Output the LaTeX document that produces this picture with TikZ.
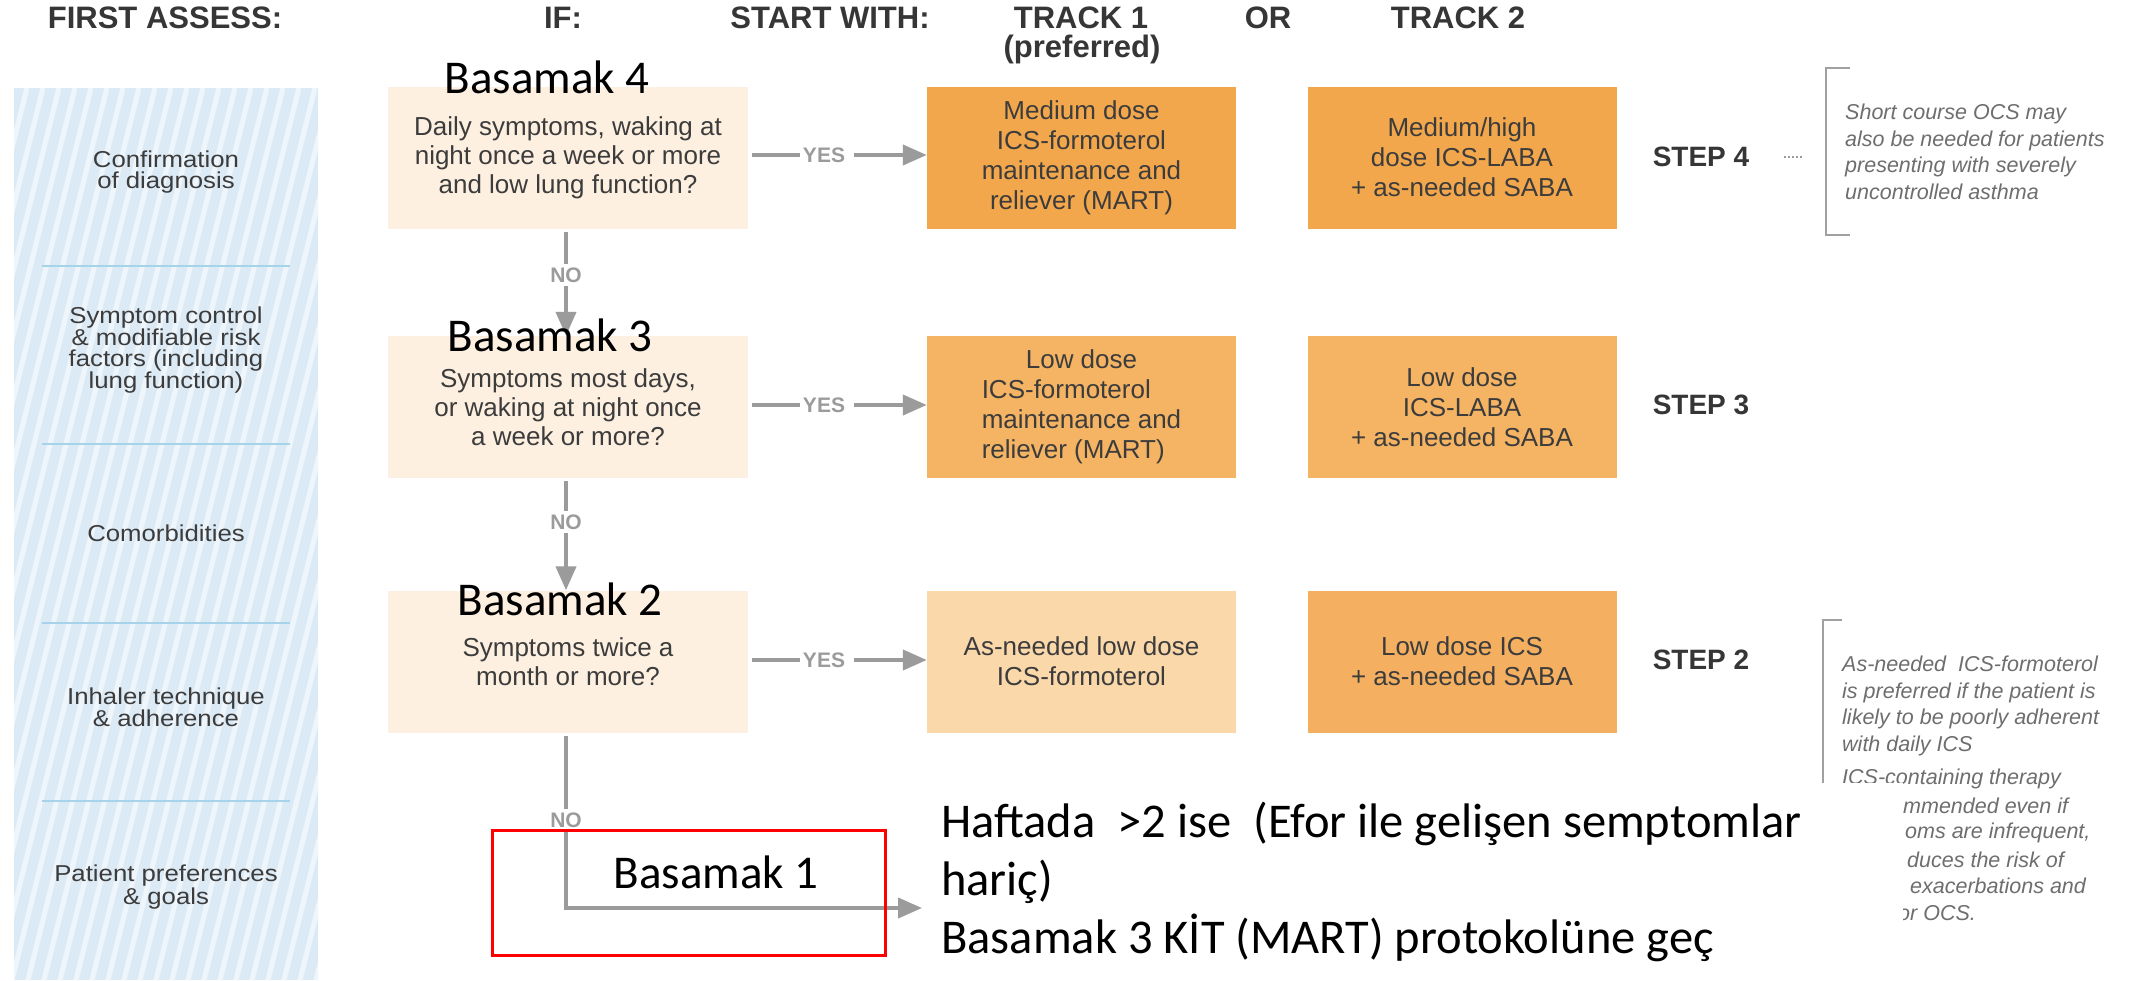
\documentclass[tikz,border=0pt]{standalone}
\usepackage{fontspec}
\setmainfont{Liberation Sans}
\newfontfamily\calfont{Carlito}
\newfontfamily\leftfont[FakeStretch=1.12]{Liberation Sans}
\usetikzlibrary{arrows.meta}
\definecolor{qcol}{HTML}{FDF0E1}
\definecolor{oA}{HTML}{F3A74C}
\definecolor{oB}{HTML}{F5B463}
\definecolor{oC}{HTML}{FAD8AA}
\definecolor{oD}{HTML}{F4B060}
\definecolor{txtc}{HTML}{3C3C3C}
\definecolor{hdrc}{HTML}{363636}
\definecolor{connc}{HTML}{9B9B9B}
\definecolor{panelc}{HTML}{DCEAF5}
\definecolor{stripec}{HTML}{EEF5FB}
\definecolor{sepc}{HTML}{A6D2EA}
\definecolor{notec}{HTML}{6E6E6E}
\definecolor{brkc}{HTML}{A0A0A0}
\tikzset{
  qbox/.style={fill=qcol, minimum width=360, minimum height=142, inner sep=0, align=center, text=txtc, font=\fontsize{26}{29}\selectfont},
  tbox/.style={minimum width=309, minimum height=142, inner sep=0, align=center, text=txtc, font=\fontsize{26}{30}\selectfont},
  hdr/.style={font=\bfseries\fontsize{31}{34}\selectfont, text=hdrc, inner sep=0},
  steplbl/.style={font=\bfseries\fontsize{28}{30}\selectfont, text=hdrc, inner sep=0},
  lbl/.style={font=\bfseries\fontsize{21}{22}\selectfont, text=connc, inner sep=3},
  cline/.style={draw=connc, line width=4},
  carr/.style={cline, -{Triangle[length=24,width=20]}},
  bas/.style={font=\calfont\fontsize{47}{56}\selectfont, text=black, inner sep=0},
  tk/.style={font=\calfont\fontsize{48.5}{58}\selectfont, text=black, inner sep=0, anchor=base west},
  lefttxt/.style={font=\leftfont\fontsize{23}{21}\selectfont, text=txtc, align=center, inner sep=0},
  note/.style={font=\itshape\fontsize{21.5}{26.5}\selectfont, text=notec, align=left, inner sep=0},
  frag/.style={font=\itshape\fontsize{21.5}{26.5}\selectfont, text=notec, inner sep=0, anchor=west},
  brk/.style={draw=brkc, line width=1.5},
  sepline/.style={draw=sepc, line width=2},
}
\begin{document}
\begin{tikzpicture}[x=1pt,y=-1pt]
\useasboundingbox (0,0) rectangle (2136,980);
\fill[white] (0,0) rectangle (2136,980);

% left panel
\fill[panelc] (14,88) rectangle (318,980);
\begin{scope}
\clip (14,88) rectangle (318,980);
\foreach \i in {-260,-244,...,330} \draw[stripec, line width=5] (\i,980) -- ({\i+223},88);
\end{scope}
\draw[sepline] (42,266) -- (290,266);
\draw[sepline] (42,444) -- (290,444);
\draw[sepline] (42,623) -- (290,623);
\draw[sepline] (42,801) -- (290,801);

\node[lefttxt] (l1) at (166,172) {Confirmation\\of diagnosis};
\node[lefttxt] (l2) at (166,350) {Symptom control\\\& modifiable risk\\factors (including\\lung function)};
\node[lefttxt] (l3) at (166,533) {Comorbidities};
\node[lefttxt] (l4) at (166,707) {Inhaler technique\\\& adherence};
\node[lefttxt] (l5) at (166,887) {Patient preferences\\\& goals};

% headers
\node[hdr] (h1) at (165,18) {FIRST ASSESS:};
\node[hdr] (h2) at (563,18) {IF:};
\node[hdr] (h3) at (830,18) {START WITH:};
\node[hdr] (h4) at (1081,18) {TRACK 1};
\node[hdr] (h4b) at (1082,49) {(preferred)};
\node[hdr] (h5) at (1268,18) {OR};
\node[hdr] (h6) at (1458,18) {TRACK 2};

% question boxes
\node[qbox] (q1) at (568,157.5) {Daily symptoms, waking at\\night once a week or more\\and low lung function?};
\node[qbox] (q2) at (568,407) {Symptoms most days,\\or waking at night once\\a week or more?};
\node[qbox] (q3) at (568,661.5) {Symptoms twice a\\month or more?};

% track boxes
\node[tbox, fill=oA] (t11) at (1081.5,157.5) {Medium dose\\ICS-formoterol\\maintenance and\\reliever (MART)};
\node[tbox, fill=oA] (t21) at (1462,157.5) {Medium/high\\dose ICS-LABA\\+ as-needed SABA};
\node[tbox, fill=oB] (t12) at (1081.5,407) {\begin{tabular}{@{}l@{}}\multicolumn{1}{@{}c@{}}{Low dose}\\ICS-formoterol\\maintenance and\\reliever (MART)\end{tabular}};
\node[tbox, fill=oB] (t22) at (1462,407) {Low dose\\ICS-LABA\\+ as-needed SABA};
\node[tbox, fill=oC] (t13) at (1081.5,661.5) {As-needed low dose\\ICS-formoterol};
\node[tbox, fill=oD] (t23) at (1462,661.5) {Low dose ICS\\+ as-needed SABA};

% step labels
\node[steplbl] (s4) at (1701,157) {STEP 4};
\node[steplbl] (s3) at (1701,405) {STEP 3};
\node[steplbl] (s2) at (1701,660) {STEP 2};
\draw[connc, line width=2, dash pattern=on 2 off 2] (1784,157) -- (1802,157);

% YES connectors
\node[lbl] (y1) at (824,155) {YES};
\node[lbl] (y2) at (824,405) {YES};
\node[lbl] (y3) at (824,660) {YES};
\draw[cline, shorten <=4] (q1.east |- y1) -- (y1.west);
\draw[carr, shorten <=6] (y1.east) -- (t11.west |- y1);
\draw[cline, shorten <=4] (q2.east |- y2) -- (y2.west);
\draw[carr, shorten <=6] (y2.east) -- (t12.west |- y2);
\draw[cline, shorten <=4] (q3.east |- y3) -- (y3.west);
\draw[carr, shorten <=6] (y3.east) -- (t13.west |- y3);

% NO connectors
\node[lbl] (n1) at (566,275) {NO};
\node[lbl] (n2) at (566,522) {NO};
\node[lbl] (n3) at (566,820) {NO};
\draw[cline, shorten <=3] (q1.south -| n1) -- (n1.north);
\draw[carr] (n1.south) -- (q2.north -| n1);
\draw[cline, shorten <=3] (q2.south -| n2) -- (n2.north);
\draw[carr] (n2.south) -- (q3.north -| n2);
\draw[cline, shorten <=3] (q3.south -| n3) -- (n3.north);
\coordinate (b1end) at (922,908);
\draw[carr] (n3.south) |- (b1end);

% red box
\node[draw=red, line width=3, minimum width=393, minimum height=125, inner sep=0] (rb) at (688.5,892.5) {};
\node[bas] (b1) at (716,872) {Basamak 1};

% Basamak labels
\node[bas] (b4) at (547,77) {Basamak 4};
\node[bas] (b3) at (550,335) {Basamak 3};
\node[bas] (b2) at (560,599) {Basamak 2};

% note 1
\draw[brk] (1850,68) -- (1826,68) -- (1826,235) -- (1850,235);
\node[note, anchor=west] (nt1) at (1845,152) {Short course OCS may\\also be needed for patients\\presenting with severely\\uncontrolled asthma};

% note 2
\draw[brk] (1842,620) -- (1823,620) -- (1823,950) -- (1842,950);
\node[note, anchor=north west] (nt2) at (1842,656) {As-needed\ \ ICS-formoterol\\is preferred if the patient is\\likely to be poorly adherent\\with daily ICS};
\node[frag, anchor=west] (nt3) at (1842,779) {ICS-containing therapy};
\node[frag] (f1) at (1903,806) {mmended even if};
\node[frag] (f2) at (1905,833) {oms are infrequent,};
\node[frag] (f3) at (1907,859.5) {duces the risk of};
\node[frag] (f4) at (1910,886) {exacerbations and};
\node[frag] (f5) at (1898,913) {or OCS.};

% white cover of the overlay text box
\fill[white] (930,783) rectangle (1903,980);

% Turkish overlay text
\node[tk] (tk1) at (941,837) {Haftada\ \ >2 ise\ \ (Efor ile gelişen semptomlar};
\node[tk] (tk2) at (941,895) {hariç)};
\node[tk] (tk3) at (941,953) {Basamak 3 KİT (MART) protokolüne geç};
\end{tikzpicture}
\end{document}
